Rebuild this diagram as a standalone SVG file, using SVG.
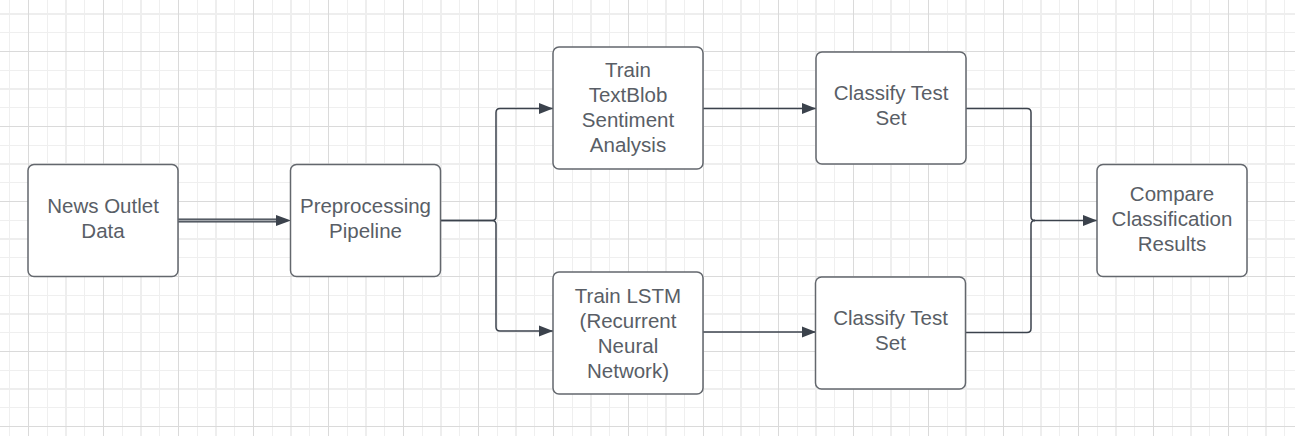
<svg xmlns="http://www.w3.org/2000/svg" width="1295" height="436" viewBox="0 0 1295 436">
<style>
.grid-major{stroke:#dadada;stroke-width:1;fill:none}
.grid-mid{stroke:#eeeeee;stroke-width:2;fill:none}
.grid-minor{stroke:#efefef;stroke-width:1;fill:none}
.box{fill:#ffffff;stroke:#63676d;stroke-width:1.5}
.lbl{font-family:"Liberation Sans",Arial,sans-serif;font-size:20.5px;fill:#595e66;text-anchor:middle}
.conn{fill:none;stroke:#3b424c;stroke-width:1.5}
.head{fill:#3b424c}
</style>
<defs>
<marker id="arr" markerUnits="userSpaceOnUse" markerWidth="16" markerHeight="12" refX="14" refY="6" orient="auto">
<path d="M0,0.5 L14,6 L0,11.5 Z" class="head"/>
</marker>
</defs>
<rect width="1295" height="436" fill="#ffffff"/>
<g id="grid">
<path class="grid-minor" d="M9.5 0V436M47.5 0V436M84.5 0V436M122.5 0V436M159.5 0V436M197.5 0V436M234.5 0V436M272.5 0V436M309.5 0V436M347.5 0V436M384.5 0V436M422.5 0V436M459.5 0V436M497.5 0V436M534.5 0V436M572.5 0V436M609.5 0V436M647.5 0V436M684.5 0V436M722.5 0V436M759.5 0V436M797.5 0V436M834.5 0V436M872.5 0V436M909.5 0V436M947.5 0V436M984.5 0V436M1022.5 0V436M1059.5 0V436M1097.5 0V436M1134.5 0V436M1172.5 0V436M1209.5 0V436M1247.5 0V436M1284.5 0V436M0 32.5H1295M0 70.5H1295M0 107.5H1295M0 145.5H1295M0 182.5H1295M0 220.5H1295M0 257.5H1295M0 295.5H1295M0 332.5H1295M0 370.5H1295M0 407.5H1295"/>
<path class="grid-mid" d="M66 0V436M141 0V436M216 0V436M291 0V436M366 0V436M441 0V436M516 0V436M591 0V436M666 0V436M741 0V436M816 0V436M891 0V436M966 0V436M1041 0V436M1116 0V436M1191 0V436M1266 0V436M0 14H1295M0 89H1295M0 164H1295M0 239H1295M0 314H1295M0 389H1295"/>
<path class="grid-major" d="M28.5 0V436M103.5 0V436M178.5 0V436M253.5 0V436M328.5 0V436M403.5 0V436M478.5 0V436M553.5 0V436M628.5 0V436M703.5 0V436M778.5 0V436M853.5 0V436M928.5 0V436M1003.5 0V436M1078.5 0V436M1153.5 0V436M1228.5 0V436M0 51.5H1295M0 126.5H1295M0 201.5H1295M0 276.5H1295M0 351.5H1295M0 426.5H1295"/>
</g>
<g id="connectors">
<path d="M178 220.5H277" fill="none" stroke="#3b424c" stroke-width="4"/>
<path d="M178 220.5H278" fill="none" stroke="#a4a8ad" stroke-width="1.3"/>
<path d="M276 215 L291 220.5 L276 226 Z" class="head"/>
<path class="conn" marker-end="url(#arr)" d="M440.5 220.5H492Q496 220.5 496 216.5V112.5Q496 108.5 500 108.5H553"/>
<path class="conn" marker-end="url(#arr)" d="M440.5 220.5H492Q496 220.5 496 224.5V327Q496 331 500 331H553"/>
<path class="conn" marker-end="url(#arr)" d="M703 108.5H816"/>
<path class="conn" marker-end="url(#arr)" d="M703 332H816"/>
<path class="conn" d="M966 108.5H1027Q1031 108.5 1031 112.5V216.5Q1031 220.5 1035 220.5"/>
<path class="conn" d="M966 332.5H1027Q1031 332.5 1031 328.5V224.5Q1031 220.5 1035 220.5"/>
<path class="conn" marker-end="url(#arr)" d="M1034 220.5H1097"/>
</g>
<g id="news-outlet-data">
<rect class="box" x="28" y="164.5" width="150" height="112" rx="6"/>
<text class="lbl" x="103" y="212.5">News Outlet</text>
<text class="lbl" x="103" y="237.5">Data</text>
</g>
<g id="preprocessing-pipeline">
<rect class="box" x="290.5" y="164.5" width="150" height="112" rx="6"/>
<text class="lbl" x="365.5" y="212.5">Preprocessing</text>
<text class="lbl" x="365.5" y="237.5">Pipeline</text>
</g>
<g id="train-textblob">
<rect class="box" x="553" y="47" width="150" height="122" rx="6"/>
<text class="lbl" x="628" y="77">Train</text>
<text class="lbl" x="628" y="102">TextBlob</text>
<text class="lbl" x="628" y="127">Sentiment</text>
<text class="lbl" x="628" y="152">Analysis</text>
</g>
<g id="train-lstm">
<rect class="box" x="553" y="272" width="150" height="122" rx="6"/>
<text class="lbl" x="628" y="302.5">Train LSTM</text>
<text class="lbl" x="628" y="327.5">(Recurrent</text>
<text class="lbl" x="628" y="352.5">Neural</text>
<text class="lbl" x="628" y="377.5">Network)</text>
</g>
<g id="classify-top">
<rect class="box" x="816" y="52" width="150" height="112" rx="6"/>
<text class="lbl" x="891" y="100">Classify Test</text>
<text class="lbl" x="891" y="125">Set</text>
</g>
<g id="classify-bottom">
<rect class="box" x="815.5" y="277" width="150" height="112" rx="6"/>
<text class="lbl" x="890.5" y="324.5">Classify Test</text>
<text class="lbl" x="890.5" y="349.5">Set</text>
</g>
<g id="compare-results">
<rect class="box" x="1097" y="164.5" width="150" height="112" rx="6"/>
<text class="lbl" x="1172" y="200.5">Compare</text>
<text class="lbl" x="1172" y="225.5">Classification</text>
<text class="lbl" x="1172" y="250.5">Results</text>
</g>
</svg>
